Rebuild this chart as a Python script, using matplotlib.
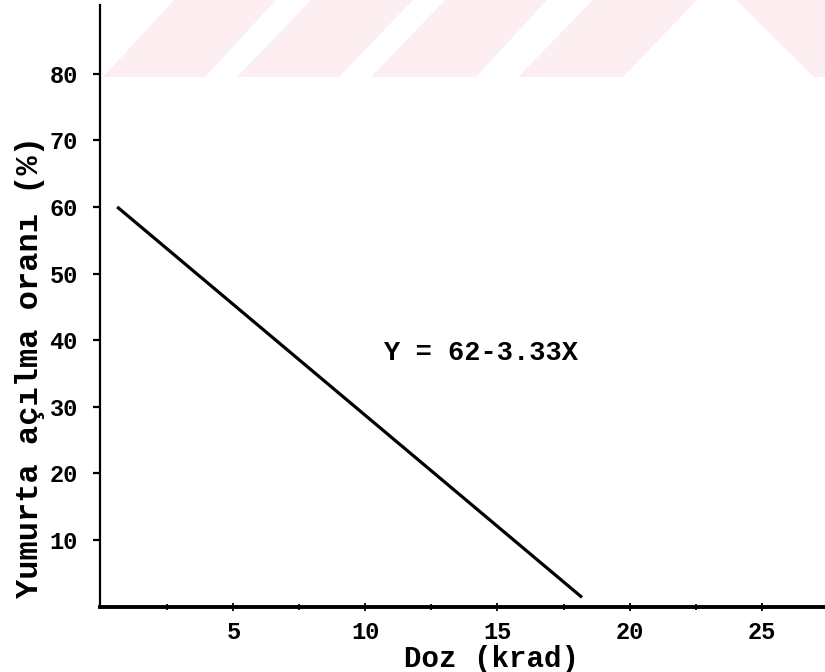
import matplotlib
matplotlib.use("Agg")
import matplotlib.pyplot as plt
from matplotlib.patches import Polygon

# ---- data ----
line_x = [0.6, 18.2]          # Doz (krad)
line_y = [60.0, 1.4]          # Yumurta açılma oranı (%)
x_ticks = [5, 10, 15, 20, 25]
x_minor = [2.5, 7.5, 12.5, 17.5, 22.5]
y_ticks = [10, 20, 30, 40, 50, 60, 70, 80]
equation = "Y = 62-3.33X"
x_label = "Doz (krad)"
y_label = "Yumurta açılma oranı (%)"

W, H = 825, 672
fig = plt.figure(figsize=(W / 100, H / 100), dpi=100)
fig.patch.set_facecolor("white")

# faint watermark stripes at top (pixel coords, y from top)
stripes = [
    [(103, 77), (205, 77), (276, 0), (174, 0)],
    [(237, 77), (339, 77), (413, 0), (311, 0)],
    [(371, 77), (476, 77), (547, 0), (445, 0)],
    [(518, 77), (623, 77), (697, 0), (593, 0)],
    [(814, 77), (825, 77), (825, 0), (736, 0)],
]
for poly in stripes:
    pts = [(px / W, 1 - py / H) for px, py in poly]
    fig.patches.append(Polygon(pts, closed=True, transform=fig.transFigure,
                               facecolor="#fdeef1", edgecolor="none", zorder=0))

left, right, top, bottom = 100, 825, 5, 607
ax = fig.add_axes([left / W, 1 - bottom / H, (right - left) / W, (bottom - top) / H])
ax.set_facecolor("none")
ax.set_zorder(1)

font = "Liberation Mono"

ax.plot(line_x, line_y, color="black", lw=2.3, solid_capstyle="butt")

ax.set_xlim(-0.05, 27.4)
ax.set_ylim(-0.04, 90.3)

for s in ["top", "right"]:
    ax.spines[s].set_visible(False)
ax.spines["left"].set_linewidth(1.6)
ax.spines["bottom"].set_linewidth(2.8)

ax.set_xticks(x_ticks)
ax.set_xticks(x_minor, minor=True)
ax.set_yticks(y_ticks)
ax.tick_params(axis="x", which="major", direction="inout", length=6, width=1.3, pad=7)
ax.tick_params(axis="x", which="minor", direction="inout", length=5, width=1.3)
ax.tick_params(axis="y", which="major", direction="out", length=5, width=1.6, pad=11)

for lab in ax.get_xticklabels() + ax.get_yticklabels():
    lab.set_fontfamily(font)
    lab.set_fontsize(17)
    lab.set_fontweight("bold")

ax.text(10.65, 38.1, equation, fontfamily=font, fontsize=19.5, fontweight="bold",
        ha="left", va="center")

fig.text(492 / W, 1 - 659 / H, x_label, fontfamily=font, fontsize=21,
         fontweight="bold", ha="center", va="center")
fig.text(30 / W, 1 - 367 / H, y_label, fontfamily=font, fontsize=23,
         fontweight="bold", ha="center", va="center", rotation=90)

fig.savefig("out.png", dpi=100, facecolor="white")
